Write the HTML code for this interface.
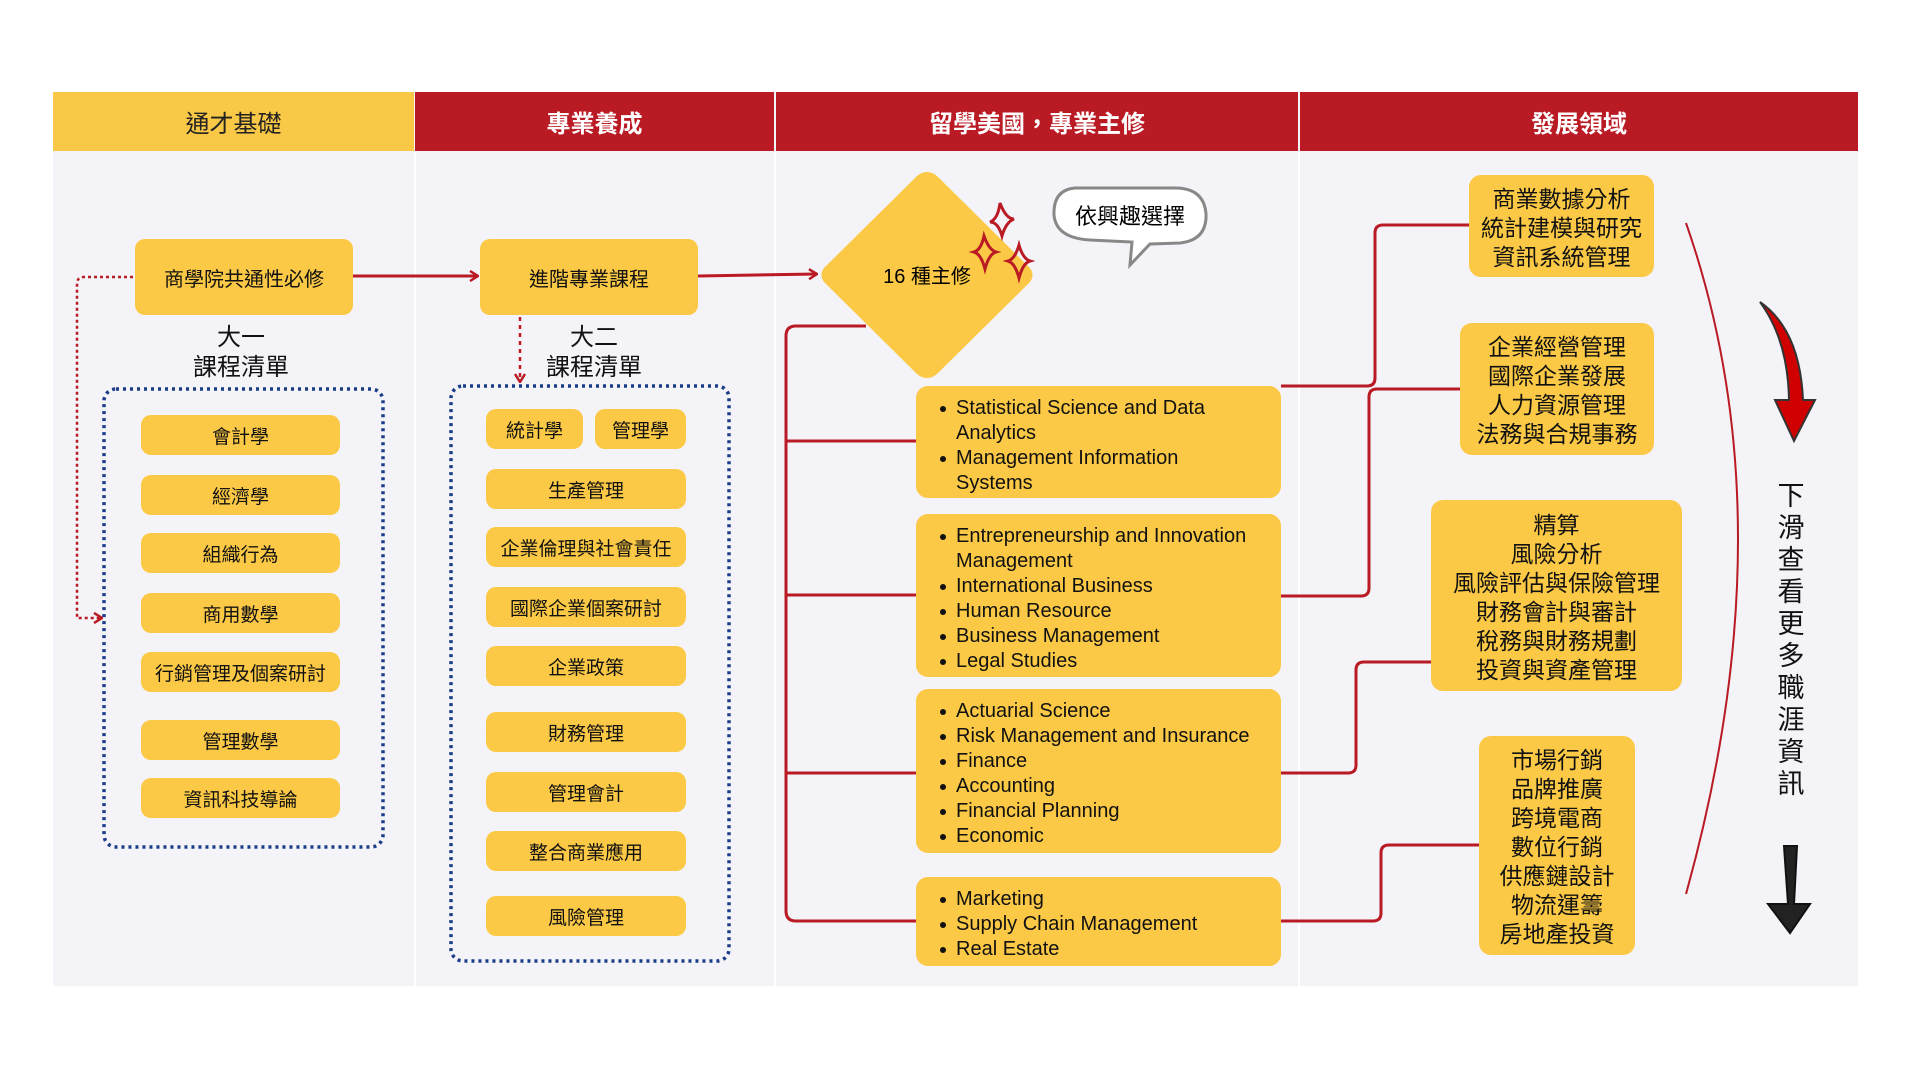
<!DOCTYPE html>
<html><head><meta charset="utf-8"><style>
*{margin:0;padding:0;box-sizing:border-box}
body{width:1920px;height:1080px;background:#fff;position:relative;overflow:hidden;font-family:"Liberation Sans","Noto Sans CJK TC",sans-serif;color:#111}
.a{position:absolute}
.hd{position:absolute;top:92px;height:59px;display:flex;align-items:center;justify-content:center;font-size:24px;font-family:"Noto Sans CJK TC",sans-serif}
.n{position:absolute;background:#FBC945;border-radius:10px;display:flex;align-items:center;justify-content:center;font-family:"Noto Sans CJK TC",sans-serif;font-size:20px;text-align:center}
.it{position:absolute;background:#FBC945;border-radius:10px;height:40px;display:flex;align-items:center;justify-content:center;font-family:"Noto Sans CJK TC",sans-serif;font-size:19px}
.mj{position:absolute;left:916px;width:365px;background:#FBC945;border-radius:12px;font-size:20px;line-height:25px;padding:10px 0 0 24px}
.mj div{position:relative;padding-left:16px}
.mj div:before{content:"";position:absolute;left:0;top:10px;width:6px;height:6px;border-radius:50%;background:#111}
.mj .c{padding-left:16px}
.mj .c:before{display:none}
.cr{position:absolute;background:#FBC945;border-radius:12px;font-family:"Noto Sans CJK TC",sans-serif;font-size:23px;line-height:29px;text-align:center;display:flex;flex-direction:column;justify-content:center}
</style></head><body>
<div class="a" style="left:53px;top:92px;width:1805px;height:894px;background:#F3F3F8"></div>
<div class="a" style="left:414px;top:151px;width:2px;height:835px;background:#fff"></div>
<div class="a" style="left:774px;top:151px;width:2px;height:835px;background:#fff"></div>
<div class="a" style="left:1298px;top:151px;width:2px;height:835px;background:#fff"></div>
<div class="hd" style="left:53px;width:361px;background:#F9C846;color:#222">通才基礎</div>
<div class="hd" style="left:415px;width:359px;background:#BA1A23;color:#fff;font-weight:bold">專業養成</div>
<div class="hd" style="left:776px;width:522px;background:#BA1A23;color:#fff;font-weight:bold">留學美國，專業主修</div>
<div class="hd" style="left:1300px;width:558px;background:#BA1A23;color:#fff;font-weight:bold">發展領域</div>

<svg class="a" style="left:0;top:0" width="1920" height="1080">
<defs><marker id="ar" markerWidth="10" markerHeight="12" refX="9" refY="6" orient="auto" markerUnits="userSpaceOnUse"><path d="M1,1 L9,6 L1,11" fill="none" stroke="#BA1A23" stroke-width="2.5"/></marker></defs>
<rect x="104" y="389" width="279" height="458" rx="12" fill="none" stroke="#1B3C87" stroke-width="3.5" stroke-dasharray="3,4"/>
<rect x="451" y="386" width="278" height="575" rx="12" fill="none" stroke="#1B3C87" stroke-width="3.5" stroke-dasharray="3,4"/>
<g fill="none" stroke="#BA1A23" stroke-width="3">
<path d="M353,276 H478" marker-end="url(#ar)"/>
<path d="M698,276 L817,274" marker-end="url(#ar)"/>
<path d="M133,277 H84 Q77,277 77,284 V618 H102" stroke-dasharray="3,3" stroke-width="2.5" marker-end="url(#ar)"/>
<path d="M520,317 V382" stroke-dasharray="4,4" stroke-width="2.5" marker-end="url(#ar)"/>
<path d="M866,326 H796 Q786,326 786,336 V911 Q786,921 796,921 H916"/>
<path d="M786,441 H916 M786,595 H916 M786,773 H916"/>
<path d="M1281,386 H1367 Q1375,386 1375,378 V233 Q1375,225 1383,225 H1469"/>
<path d="M1281,596 H1361 Q1369,596 1369,588 V397 Q1369,389 1377,389 H1460"/>
<path d="M1281,773 H1348 Q1356,773 1356,765 V670 Q1356,662 1364,662 H1431"/>
<path d="M1281,921 H1373 Q1381,921 1381,913 V853 Q1381,845 1389,845 H1479"/>
<path d="M1686,223 Q1790,520 1686,894" stroke-width="2"/>
</g>
<path d="M927,172 Q933,172 938,177 L1030,268 Q1035,275 1030,282 L938,373 Q933,378 927,378 Q921,378 916,373 L824,282 Q819,275 824,268 L916,177 Q921,172 927,172Z" fill="#FBC945"/>
<text x="927" y="283" text-anchor="middle" font-size="20" font-family="Liberation Sans,Noto Sans CJK TC,sans-serif">16 種主修</text>
<g fill="none" stroke="#BA1A23" stroke-width="3">
<path d="M1000,203 Q1006,219 1014,219 Q1006,222 1002,236 Q998,222 990,222 Q998,219 1000,203Z"/>
<path d="M984,236 Q989,250 996,252 Q989,254 985,269 Q981,254 974,252 Q981,250 984,236Z"/>
<path d="M1019,245 Q1023,259 1030,261 Q1023,263 1019,278 Q1015,263 1008,261 Q1015,259 1019,245Z"/>
</g>
<path d="M1075,188 Q1053,190 1054,215 Q1056,238 1090,240 L1132,242 L1130,265 L1150,244 L1180,243 Q1207,240 1206,214 Q1204,188 1175,188Z" fill="#fff" stroke="#888" stroke-width="3"/>
<text x="1130" y="224" text-anchor="middle" font-size="22" font-family="Noto Sans CJK TC,sans-serif">依興趣選擇</text>
<path d="M1760,302 Q1800,330 1803,400 L1815,400 L1794,441 L1775,400 L1789,400 Q1788,340 1760,302Z" fill="#D00000" stroke="#333" stroke-width="2"/>
<path d="M1784,846 L1788,904 L1768,904 L1790,933 L1810,904 L1794,904 L1797,846Z" fill="#222" stroke="#111" stroke-width="2"/>
</svg>

<div class="n" style="left:135px;top:239px;width:218px;height:76px">商學院共通性必修</div>
<div class="n" style="left:480px;top:239px;width:218px;height:76px">進階專業課程</div>
<div class="a" style="left:171px;top:320px;width:140px;text-align:center;font-family:'Noto Sans CJK TC',sans-serif;font-size:24px;line-height:30px">大一<br>課程清單</div>
<div class="a" style="left:524px;top:320px;width:140px;text-align:center;font-family:'Noto Sans CJK TC',sans-serif;font-size:24px;line-height:30px">大二<br>課程清單</div>

<div class="it" style="left:141px;top:415px;width:199px">會計學</div>
<div class="it" style="left:141px;top:475px;width:199px">經濟學</div>
<div class="it" style="left:141px;top:533px;width:199px">組織行為</div>
<div class="it" style="left:141px;top:593px;width:199px">商用數學</div>
<div class="it" style="left:141px;top:652px;width:199px">行銷管理及個案研討</div>
<div class="it" style="left:141px;top:720px;width:199px">管理數學</div>
<div class="it" style="left:141px;top:778px;width:199px">資訊科技導論</div>

<div class="it" style="left:486px;top:409px;width:97px">統計學</div>
<div class="it" style="left:595px;top:409px;width:91px">管理學</div>
<div class="it" style="left:486px;top:469px;width:200px">生產管理</div>
<div class="it" style="left:486px;top:527px;width:200px">企業倫理與社會責任</div>
<div class="it" style="left:486px;top:587px;width:200px">國際企業個案研討</div>
<div class="it" style="left:486px;top:646px;width:200px">企業政策</div>
<div class="it" style="left:486px;top:712px;width:200px">財務管理</div>
<div class="it" style="left:486px;top:772px;width:200px">管理會計</div>
<div class="it" style="left:486px;top:831px;width:200px">整合商業應用</div>
<div class="it" style="left:486px;top:896px;width:200px">風險管理</div>

<div class="mj" style="top:386px;height:112px"><div>Statistical Science and Data</div><div class="c">Analytics</div><div>Management Information</div><div class="c">Systems</div></div>
<div class="mj" style="top:514px;height:163px"><div>Entrepreneurship and Innovation</div><div class="c">Management</div><div>International Business</div><div>Human Resource</div><div>Business Management</div><div>Legal Studies</div></div>
<div class="mj" style="top:689px;height:164px"><div>Actuarial Science</div><div>Risk Management and Insurance</div><div>Finance</div><div>Accounting</div><div>Financial Planning</div><div>Economic</div></div>
<div class="mj" style="top:877px;height:89px"><div>Marketing</div><div>Supply Chain Management</div><div>Real Estate</div></div>

<div class="cr" style="left:1469px;top:175px;width:185px;height:102px"><span>商業數據分析</span><span>統計建模與研究</span><span>資訊系統管理</span></div>
<div class="cr" style="left:1460px;top:323px;width:194px;height:132px"><span>企業經營管理</span><span>國際企業發展</span><span>人力資源管理</span><span>法務與合規事務</span></div>
<div class="cr" style="left:1431px;top:500px;width:251px;height:191px"><span>精算</span><span>風險分析</span><span>風險評估與保險管理</span><span>財務會計與審計</span><span>稅務與財務規劃</span><span>投資與資產管理</span></div>
<div class="cr" style="left:1479px;top:736px;width:156px;height:219px"><span>市場行銷</span><span>品牌推廣</span><span>跨境電商</span><span>數位行銷</span><span>供應鏈設計</span><span>物流運籌</span><span>房地產投資</span></div>

<div class="a" style="left:1776px;top:478px;width:30px;font-family:'Noto Sans CJK TC',sans-serif;font-size:27px;line-height:32px;text-align:center">下<br>滑<br>查<br>看<br>更<br>多<br>職<br>涯<br>資<br>訊</div>
</body></html>
